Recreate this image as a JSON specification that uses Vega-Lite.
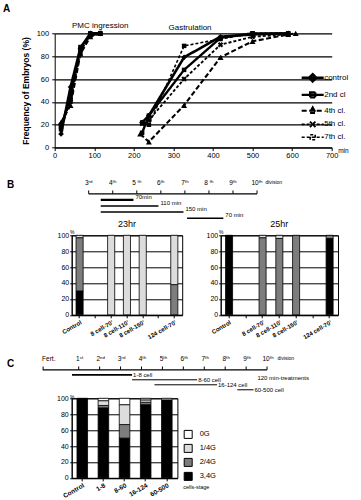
{
  "$schema": "https://vega.github.io/schema/vega-lite/v6.json",
  "padding": {"left": 2.7, "top": 3.3, "right": 0, "bottom": 0},
  "spacing": 0,
  "resolve": {"scale": {"color": "independent"}, "legend": {"color": "independent"}},
  "config": {
    "font": "Liberation Sans",
    "view": {"stroke": null},
    "text": {"color": "black"},
    "axis": {"domainColor": "black", "tickColor": "black", "labelColor": "black", "titleColor": "black", "gridColor": "black", "labelOverlap": false, "labelFlush": false}
  },
  "datasets": {
    "curves": [
      {"s": "control", "p": "pmc", "t": 16, "v": 12}, {"s": "control", "p": "pmc", "t": 40, "v": 53}, {"s": "control", "p": "pmc", "t": 65, "v": 87}, {"s": "control", "p": "pmc", "t": 90, "v": 100}, {"s": "control", "p": "pmc", "t": 115, "v": 100},
      {"s": "2nd cl", "p": "pmc", "t": 16, "v": 18}, {"s": "2nd cl", "p": "pmc", "t": 40, "v": 45}, {"s": "2nd cl", "p": "pmc", "t": 65, "v": 88}, {"s": "2nd cl", "p": "pmc", "t": 90, "v": 98}, {"s": "2nd cl", "p": "pmc", "t": 115, "v": 100},
      {"s": "4th cl.", "p": "pmc", "t": 16, "v": 22}, {"s": "4th cl.", "p": "pmc", "t": 40, "v": 37}, {"s": "4th cl.", "p": "pmc", "t": 65, "v": 82}, {"s": "4th cl.", "p": "pmc", "t": 90, "v": 97}, {"s": "4th cl.", "p": "pmc", "t": 115, "v": 100},
      {"s": "5th cl.", "p": "pmc", "t": 16, "v": 20}, {"s": "5th cl.", "p": "pmc", "t": 40, "v": 40}, {"s": "5th cl.", "p": "pmc", "t": 65, "v": 85}, {"s": "5th cl.", "p": "pmc", "t": 90, "v": 99}, {"s": "5th cl.", "p": "pmc", "t": 115, "v": 100},
      {"s": "7th cl.", "p": "pmc", "t": 16, "v": 16}, {"s": "7th cl.", "p": "pmc", "t": 40, "v": 42}, {"s": "7th cl.", "p": "pmc", "t": 65, "v": 83}, {"s": "7th cl.", "p": "pmc", "t": 90, "v": 100}, {"s": "7th cl.", "p": "pmc", "t": 115, "v": 100},
      {"s": "control", "p": "gas", "t": 221, "v": 22}, {"s": "control", "p": "gas", "t": 238, "v": 28}, {"s": "control", "p": "gas", "t": 327, "v": 79}, {"s": "control", "p": "gas", "t": 419, "v": 97}, {"s": "control", "p": "gas", "t": 500, "v": 99}, {"s": "control", "p": "gas", "t": 590, "v": 100},
      {"s": "2nd cl", "p": "gas", "t": 221, "v": 13}, {"s": "2nd cl", "p": "gas", "t": 238, "v": 28}, {"s": "2nd cl", "p": "gas", "t": 327, "v": 68}, {"s": "2nd cl", "p": "gas", "t": 419, "v": 96}, {"s": "2nd cl", "p": "gas", "t": 500, "v": 100}, {"s": "2nd cl", "p": "gas", "t": 590, "v": 100},
      {"s": "4th cl.", "p": "gas", "t": 216, "v": 12}, {"s": "4th cl.", "p": "gas", "t": 238, "v": 5}, {"s": "4th cl.", "p": "gas", "t": 327, "v": 37}, {"s": "4th cl.", "p": "gas", "t": 419, "v": 79}, {"s": "4th cl.", "p": "gas", "t": 500, "v": 93}, {"s": "4th cl.", "p": "gas", "t": 590, "v": 99}, {"s": "4th cl.", "p": "gas", "t": 609, "v": 100},
      {"s": "5th cl.", "p": "gas", "t": 221, "v": 21}, {"s": "5th cl.", "p": "gas", "t": 238, "v": 24}, {"s": "5th cl.", "p": "gas", "t": 327, "v": 60}, {"s": "5th cl.", "p": "gas", "t": 419, "v": 90}, {"s": "5th cl.", "p": "gas", "t": 500, "v": 97}, {"s": "5th cl.", "p": "gas", "t": 590, "v": 99},
      {"s": "7th cl.", "p": "gas", "t": 221, "v": 22}, {"s": "7th cl.", "p": "gas", "t": 238, "v": 20}, {"s": "7th cl.", "p": "gas", "t": 327, "v": 89}, {"s": "7th cl.", "p": "gas", "t": 419, "v": 95}, {"s": "7th cl.", "p": "gas", "t": 500, "v": 100}, {"s": "7th cl.", "p": "gas", "t": 590, "v": 100}
    ],
    "bdiv": [
      {"d": 3, "lab": "3ʳᵈ"}, {"d": 4, "lab": "4ᵗʰ"}, {"d": 5, "lab": "5 ᵗʰ"}, {"d": 6, "lab": "6ᵗʰ"}, {"d": 7, "lab": "7ᵗʰ"}, {"d": 8, "lab": "8 ᵗʰ"}, {"d": 9, "lab": "9ᵗʰ"}, {"d": 10, "lab": "10ᵗʰ"}
    ],
    "btr": [
      {"s": 3.5, "e": 4.86, "row": 1, "lab": "70min"},
      {"s": 3.5, "e": 5.9, "row": 2, "lab": "110 min"},
      {"s": 3.5, "e": 6.94, "row": 3, "lab": "150 min"},
      {"s": 7.09, "e": 8.6, "row": 4, "lab": "70 min"}
    ],
    "cdiv": [
      {"d": -0.7, "lab": "Fert."}, {"d": 1, "lab": "1ˢᵗ"}, {"d": 2, "lab": "2ⁿᵈ"}, {"d": 3, "lab": "3ʳᵈ"}, {"d": 4, "lab": "4ᵗʰ"}, {"d": 5, "lab": "5ᵗʰ"}, {"d": 6, "lab": "6ᵗʰ"}, {"d": 7, "lab": "7ᵗʰ"}, {"d": 8, "lab": "8ᵗʰ"}, {"d": 9, "lab": "9ᵗʰ"}, {"d": 10, "lab": "10ᵗʰ"}
    ],
    "ctr": [
      {"s": 0.68, "e": 3.55, "row": 1, "lab": "1-8 cell"},
      {"s": 3.55, "e": 6.66, "row": 2, "lab": "8-60 cell"},
      {"s": 4.62, "e": 7.61, "row": 3, "lab": "16-124 cell"},
      {"s": 8.58, "e": 9.35, "row": 4, "lab": "60-500 cell"}
    ],
    "b23": [
      {"c": "Control", "g": "3,4G", "p": 30}, {"c": "Control", "g": "2/4G", "p": 67}, {"c": "Control", "g": "1/4G", "p": 3},
      {"c": "8 cell-70'", "g": "1/4G", "p": 100},
      {"c": "8 cell-110'", "g": "1/4G", "p": 100},
      {"c": "8 cell-150'", "g": "1/4G", "p": 100},
      {"c": "124 cell-70'", "g": "2/4G", "p": 38}, {"c": "124 cell-70'", "g": "1/4G", "p": 62}
    ],
    "b25": [
      {"c": "Control", "g": "3,4G", "p": 100},
      {"c": "8 cell-70'", "g": "2/4G", "p": 97}, {"c": "8 cell-70'", "g": "1/4G", "p": 3},
      {"c": "8 cell-110'", "g": "2/4G", "p": 96}, {"c": "8 cell-110'", "g": "1/4G", "p": 4},
      {"c": "8 cell-150'", "g": "2/4G", "p": 100},
      {"c": "124 cell-70'", "g": "3,4G", "p": 96}, {"c": "124 cell-70'", "g": "2/4G", "p": 4}
    ],
    "cbar": [
      {"c": "Control", "g": "3,4G", "p": 100},
      {"c": "1-8", "g": "3,4G", "p": 88}, {"c": "1-8", "g": "2/4G", "p": 3}, {"c": "1-8", "g": "1/4G", "p": 6}, {"c": "1-8", "g": "0G", "p": 3},
      {"c": "8-60", "g": "3,4G", "p": 50}, {"c": "8-60", "g": "2/4G", "p": 17}, {"c": "8-60", "g": "1/4G", "p": 25}, {"c": "8-60", "g": "0G", "p": 8},
      {"c": "16-124", "g": "3,4G", "p": 92}, {"c": "16-124", "g": "2/4G", "p": 3}, {"c": "16-124", "g": "1/4G", "p": 3}, {"c": "16-124", "g": "0G", "p": 2},
      {"c": "60-500", "g": "3,4G", "p": 98}, {"c": "60-500", "g": "0G", "p": 2}
    ],
    "blank": [{"k": 1}]
  },
  "vconcat": [
    {
      "spacing": 0,
      "hconcat": [
        {
          "width": 277, "height": 114.3,
          "layer": [
            {
              "data": {"name": "curves"},
              "mark": {"type": "line", "color": "black"},
              "encoding": {
                "x": {"field": "t", "type": "quantitative", "scale": {"domain": [0, 700], "nice": false, "zero": false},
                  "axis": {"values": [0, 100, 200, 300, 400, 500, 600, 700], "tickCount": 50, "labelFontSize": 7.5, "tickSize": 3, "labelPadding": 1, "grid": false, "title": "min", "titleFontSize": 6.5, "titleFontWeight": "normal", "titleAlign": "left", "titleBaseline": "middle", "titleX": 283, "titleY": 3}},
                "y": {"field": "v", "type": "quantitative", "scale": {"domain": [0, 100], "nice": false},
                  "axis": {"values": [0, 20, 40, 60, 80, 100], "tickCount": 50, "labelFontSize": 7.5, "tickSize": 3, "labelPadding": 3, "grid": true, "gridWidth": 1.2, "title": "Frequency of Embryos (%)", "titleFontSize": 8.5, "titleFontWeight": "bold", "titlePadding": 6}},
                "detail": {"field": "p"},
                "strokeDash": {"field": "s", "type": "nominal", "scale": {"domain": ["control", "2nd cl", "4th cl.", "5th cl.", "7th cl."], "range": [[1, 0], [1, 0], [5, 2.5], [3, 2], [3, 2]]},
                  "legend": {"title": null, "orient": "none", "legendX": 251.5, "legendY": 38, "symbolSize": 100, "labelFontSize": 8, "labelOffset": 5, "rowPadding": 0, "padding": 0}},
                "strokeWidth": {"field": "s", "type": "nominal", "scale": {"domain": ["control", "2nd cl", "4th cl.", "5th cl.", "7th cl."], "range": [2.6, 1.6, 2.6, 1, 1]},
                  "legend": {"title": null, "orient": "none", "legendX": 251.5, "legendY": 38, "symbolSize": 100, "labelFontSize": 8, "labelOffset": 5, "rowPadding": 0, "padding": 0}}
              }
            },
            {
              "data": {"name": "curves"},
              "mark": {"type": "point", "opacity": 0, "filled": true},
              "encoding": {
                "x": {"field": "t", "type": "quantitative"},
                "y": {"field": "v", "type": "quantitative"},
                "shape": {"field": "s", "type": "nominal", "scale": {"domain": ["control", "2nd cl", "4th cl.", "5th cl.", "7th cl."], "range": ["M-2.2,0H2.2M0,-0.7L0.7,0L0,0.7L-0.7,0Z", "M-2.2,0H2.2M-0.5,-0.5H0.5V0.5H-0.5Z", "M-2.2,0H2.2M0,-0.7L0.65,0.45L-0.65,0.45Z", "M-2.2,0H2.2M-0.55,-0.55L0.55,0.55M0.55,-0.55L-0.55,0.55", "M-2.2,0H2.2M-0.5,-0.5H0.5V0.5H-0.5Z"]},
                  "legend": {"title": null, "orient": "none", "legendX": 251.5, "legendY": 38, "symbolSize": 100, "labelFontSize": 8, "labelOffset": 5, "rowPadding": 0, "padding": 0}}
              }
            },
            {
              "data": {"name": "curves"},
              "transform": [{"filter": "datum.s === 'control'"}],
              "mark": {"type": "point", "shape": "diamond", "filled": true, "color": "black", "size": 32, "opacity": 1},
              "encoding": {"x": {"field": "t", "type": "quantitative"}, "y": {"field": "v", "type": "quantitative"}}
            },
            {
              "data": {"name": "curves"},
              "transform": [{"filter": "datum.s === '2nd cl' || datum.s === '7th cl.'"}],
              "mark": {"type": "point", "shape": "square", "filled": true, "color": "black", "size": 20, "opacity": 1},
              "encoding": {"x": {"field": "t", "type": "quantitative"}, "y": {"field": "v", "type": "quantitative"}}
            },
            {
              "data": {"name": "curves"},
              "transform": [{"filter": "datum.s === '4th cl.'"}],
              "mark": {"type": "point", "shape": "triangle-up", "filled": true, "color": "black", "size": 36, "opacity": 1},
              "encoding": {"x": {"field": "t", "type": "quantitative"}, "y": {"field": "v", "type": "quantitative"}}
            },
            {
              "data": {"name": "curves"},
              "transform": [{"filter": "datum.s === '5th cl.'"}],
              "mark": {"type": "point", "shape": "cross", "angle": 45, "filled": true, "color": "black", "size": 30, "opacity": 1},
              "encoding": {"x": {"field": "t", "type": "quantitative"}, "y": {"field": "v", "type": "quantitative"}}
            },
            {
              "data": {"values": [{}]},
              "mark": {"type": "text", "fontSize": 8},
              "encoding": {"x": {"datum": 115}, "y": {"datum": 106}, "text": {"value": "PMC ingression"}}
            },
            {
              "data": {"values": [{}]},
              "mark": {"type": "text", "fontSize": 8},
              "encoding": {"x": {"datum": 342}, "y": {"datum": 105}, "text": {"value": "Gastrulation"}}
            },
            {
              "data": {"values": [{}]},
              "mark": {"type": "text", "fontSize": 10, "fontWeight": "bold", "align": "left", "baseline": "top"},
              "encoding": {"x": {"datum": -130.6}, "y": {"datum": 126}, "text": {"value": "A"}}
            }
          ]
        }
      ]
    },
    {
      "width": 277, "height": 58.2,
      "layer": [
        {
          "data": {"values": [{}]},
          "mark": {"type": "rule", "color": "black", "strokeWidth": 1.2},
          "encoding": {
            "x": {"datum": 3, "type": "quantitative", "scale": {"domain": [1.5863, 13.104], "nice": false, "zero": false}, "axis": null},
            "x2": {"datum": 10},
            "y": {"datum": 0, "type": "quantitative", "scale": {"domain": [-5.656, 3.885], "nice": false, "zero": false, "reverse": true}, "axis": null}
          }
        },
        {
          "data": {"name": "bdiv"},
          "mark": {"type": "rule", "color": "black", "strokeWidth": 1},
          "encoding": {"x": {"field": "d", "type": "quantitative"}, "y": {"datum": 0}, "y2": {"datum": -0.55}}
        },
        {
          "data": {"name": "bdiv"},
          "mark": {"type": "text", "fontSize": 6.5, "baseline": "middle"},
          "encoding": {"x": {"field": "d", "type": "quantitative"}, "y": {"datum": -1.7}, "text": {"field": "lab"}}
        },
        {
          "data": {"name": "btr"},
          "mark": {"type": "rule", "color": "black"},
          "encoding": {"x": {"field": "s", "type": "quantitative"}, "x2": {"field": "e"}, "y": {"field": "row", "type": "quantitative"},
            "strokeWidth": {"condition": {"test": "datum.row === 1", "value": 2.2}, "value": 1.5}}
        },
        {
          "data": {"name": "btr"},
          "mark": {"type": "text", "fontSize": 6, "align": "left", "dx": 2, "dy": -3},
          "encoding": {"x": {"field": "e", "type": "quantitative"}, "y": {"field": "row", "type": "quantitative"}, "text": {"field": "lab"}}
        },
        {
          "data": {"values": [{}]},
          "mark": {"type": "text", "fontSize": 5, "align": "left"},
          "encoding": {"x": {"datum": 10.35}, "y": {"datum": -1.9}, "text": {"value": "division"}}
        },
        {
          "data": {"values": [{}]},
          "mark": {"type": "text", "fontSize": 10, "fontWeight": "bold", "align": "left"},
          "encoding": {"x": {"datum": -0.393}, "y": {"datum": -1.44}, "text": {"value": "B"}}
        }
      ]
    },
    {
      "spacing": 0,
      "hconcat": [
        {"width": 0.5, "height": 79.5, "data": {"name": "blank"}, "mark": {"type": "text", "opacity": 0, "fontSize": 1}, "encoding": {"text": {"value": " "}}},
        {
          "width": 110.5, "height": 79.5,
          "title": {"text": "23hr", "fontSize": 9, "fontWeight": "normal", "offset": 0},
          "view": {"stroke": "black"},
          "data": {"name": "b23"},
          "mark": {"type": "bar", "width": {"band": 0.45}, "stroke": "black", "strokeWidth": 0.8},
          "encoding": {
            "x": {"field": "c", "type": "nominal", "scale": {"domain": ["Control", "gap1", "8 cell-70'", "8 cell-110'", "8 cell-150'", "gap2", "124 cell-70'"], "paddingInner": 0, "paddingOuter": 0},
              "axis": {"title": null, "labelAngle": -30, "labelAlign": "right", "labelBaseline": "top", "labelFontSize": 6, "labelFontWeight": "bold", "labelExpr": "indexof(datum.value,'gap') === 0 ? '' : datum.value", "tickSize": 3, "labelPadding": 1}},
            "y": {"field": "p", "type": "quantitative", "stack": "zero", "scale": {"domain": [0, 100], "nice": false},
              "axis": {"values": [0, 20, 40, 60, 80, 100], "labelFontSize": 7, "tickSize": 2, "labelPadding": 1, "grid": true, "gridWidth": 1, "title": "%", "titleAngle": 0, "titleFontSize": 5, "titleFontWeight": "normal", "titleX": 0, "titleY": -1, "titleAlign": "center", "titleBaseline": "bottom"}},
            "color": {"field": "g", "type": "nominal", "scale": {"domain": ["0G", "1/4G", "2/4G", "3,4G"], "range": ["white", "#dcdcdc", "#7d7d7d", "black"]}, "legend": null},
            "order": {"field": "g", "sort": "descending"}
          }
        },
        {"width": 22, "height": 79.5, "data": {"name": "blank"}, "mark": {"type": "text", "opacity": 0, "fontSize": 1}, "encoding": {"text": {"value": " "}}},
        {
          "width": 117.3, "height": 79.5,
          "title": {"text": "25hr", "fontSize": 9, "fontWeight": "normal", "offset": 0},
          "view": {"stroke": "black"},
          "data": {"name": "b25"},
          "mark": {"type": "bar", "width": {"band": 0.42}, "stroke": "black", "strokeWidth": 0.8},
          "encoding": {
            "x": {"field": "c", "type": "nominal", "scale": {"domain": ["Control", "gap1", "8 cell-70'", "8 cell-110'", "8 cell-150'", "gap2", "124 cell-70'"], "paddingInner": 0, "paddingOuter": 0},
              "axis": {"title": null, "labelAngle": -30, "labelAlign": "right", "labelBaseline": "top", "labelFontSize": 6, "labelFontWeight": "bold", "labelExpr": "indexof(datum.value,'gap') === 0 ? '' : datum.value", "tickSize": 3, "labelPadding": 1}},
            "y": {"field": "p", "type": "quantitative", "stack": "zero", "scale": {"domain": [0, 100], "nice": false},
              "axis": {"values": [0, 20, 40, 60, 80, 100], "labelFontSize": 7, "tickSize": 2, "labelPadding": 1, "grid": true, "gridWidth": 1, "title": "%", "titleAngle": 0, "titleFontSize": 5, "titleFontWeight": "normal", "titleX": 0, "titleY": -1, "titleAlign": "center", "titleBaseline": "bottom"}},
            "color": {"field": "g", "type": "nominal", "scale": {"domain": ["0G", "1/4G", "2/4G", "3,4G"], "range": ["white", "#dcdcdc", "#7d7d7d", "black"]}, "legend": null},
            "order": {"field": "g", "sort": "descending"}
          }
        }
      ]
    },
    {
      "width": 277, "height": 50.5,
      "layer": [
        {
          "data": {"values": [{}]},
          "mark": {"type": "rule", "color": "black", "strokeWidth": 1.2},
          "encoding": {
            "x": {"datum": -0.72, "type": "quantitative", "scale": {"domain": [-0.1467, 13.088], "nice": false, "zero": false}, "axis": null},
            "x2": {"datum": 10},
            "y": {"datum": 0, "type": "quantitative", "scale": {"domain": [-5.7, 4.4], "nice": false, "zero": false, "reverse": true}, "axis": null}
          }
        },
        {
          "data": {"name": "cdiv"},
          "mark": {"type": "rule", "color": "black", "strokeWidth": 1},
          "encoding": {"x": {"field": "d", "type": "quantitative"}, "y": {"datum": 0}, "y2": {"datum": -0.66}}
        },
        {
          "data": {"name": "cdiv"},
          "transform": [{"filter": "datum.d > 0"}],
          "mark": {"type": "text", "fontSize": 6.5, "baseline": "middle", "dx": 1},
          "encoding": {"x": {"field": "d", "type": "quantitative"}, "y": {"datum": -2.24}, "text": {"field": "lab"}}
        },
        {
          "data": {"name": "cdiv"},
          "transform": [{"filter": "datum.d < 0"}],
          "mark": {"type": "text", "fontSize": 6.5, "baseline": "middle", "align": "left", "dx": -1},
          "encoding": {"x": {"field": "d", "type": "quantitative"}, "y": {"datum": -2.24}, "text": {"field": "lab"}}
        },
        {
          "data": {"name": "ctr"},
          "mark": {"type": "rule", "color": "black"},
          "encoding": {"x": {"field": "s", "type": "quantitative"}, "x2": {"field": "e"}, "y": {"field": "row", "type": "quantitative"},
            "strokeWidth": {"condition": {"test": "datum.row === 1", "value": 1.8}, "value": 1}}
        },
        {
          "data": {"name": "ctr"},
          "mark": {"type": "text", "fontSize": 6, "align": "left", "baseline": "middle", "dx": 1},
          "encoding": {"x": {"field": "e", "type": "quantitative"}, "y": {"field": "row", "type": "quantitative"}, "text": {"field": "lab"}}
        },
        {
          "data": {"values": [{}]},
          "mark": {"type": "text", "fontSize": 6, "align": "left", "baseline": "middle"},
          "encoding": {"x": {"datum": 9.54}, "y": {"datum": 1.66}, "text": {"value": "120 min-treatments"}}
        },
        {
          "data": {"values": [{}]},
          "mark": {"type": "text", "fontSize": 5, "align": "left", "baseline": "middle"},
          "encoding": {"x": {"datum": 10.5}, "y": {"datum": -2.4}, "text": {"value": "division"}}
        },
        {
          "data": {"values": [{}]},
          "mark": {"type": "text", "fontSize": 10, "fontWeight": "bold", "align": "left"},
          "encoding": {"x": {"datum": -2.421}, "y": {"datum": -1.14}, "text": {"value": "C"}}
        }
      ]
    },
    {
      "spacing": 0,
      "resolve": {"scale": {"color": "independent"}, "legend": {"color": "independent"}},
      "hconcat": [
        {"width": 0.5, "height": 79.6, "data": {"name": "blank"}, "mark": {"type": "text", "opacity": 0, "fontSize": 1}, "encoding": {"text": {"value": " "}}},
        {
          "width": 105.7, "height": 79.6,
          "view": {"stroke": "black"},
          "data": {"name": "cbar"},
          "mark": {"type": "bar", "width": {"band": 0.5}, "stroke": "black", "strokeWidth": 0.8},
          "encoding": {
            "x": {"field": "c", "type": "nominal", "scale": {"domain": ["Control", "1-8", "8-60", "16-124", "60-500"], "paddingInner": 0, "paddingOuter": 0},
              "axis": {"labelAngle": -30, "labelAlign": "right", "labelBaseline": "top", "labelFontSize": 6.5, "labelFontWeight": "bold", "tickSize": 3, "labelPadding": 1,
                "title": "cells-stage", "titleFontSize": 5.5, "titleFontWeight": "normal", "titleAlign": "left", "titleBaseline": "middle", "titleX": 111, "titleY": 9}},
            "y": {"field": "p", "type": "quantitative", "stack": "zero", "scale": {"domain": [0, 100], "nice": false},
              "axis": {"values": [0, 20, 40, 60, 80, 100], "labelFontSize": 7, "tickSize": 2, "labelPadding": 1.5, "grid": true, "gridWidth": 1, "title": "%", "titleAngle": 0, "titleFontSize": 5, "titleFontWeight": "normal", "titleX": 0, "titleY": 1, "titleAlign": "center", "titleBaseline": "bottom"}},
            "color": {"field": "g", "type": "nominal", "scale": {"domain": ["0G", "1/4G", "2/4G", "3,4G"], "range": ["white", "#dcdcdc", "#7d7d7d", "black"]},
              "legend": {"title": null, "orient": "none", "legendX": 112, "legendY": 31.6, "symbolType": "square", "symbolSize": 64, "labelFontSize": 7.5, "labelOffset": 7, "rowPadding": 1, "padding": 0, "symbolStrokeColor": "black", "symbolStrokeWidth": 1}},
            "order": {"field": "g", "sort": "descending"}
          }
        }
      ]
    }
  ]
}
